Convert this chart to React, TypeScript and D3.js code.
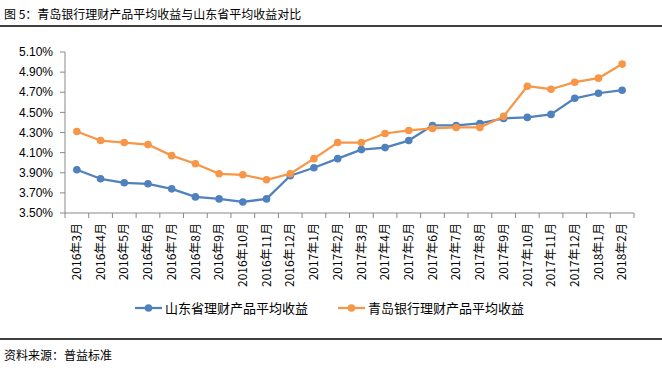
import React from "react";
import * as d3 from "d3";

const categories = [
  "2016年3月", "2016年4月", "2016年5月", "2016年6月", "2016年7月", "2016年8月",
  "2016年9月", "2016年10月", "2016年11月", "2016年12月", "2017年1月", "2017年2月",
  "2017年3月", "2017年4月", "2017年5月", "2017年6月", "2017年7月", "2017年8月",
  "2017年9月", "2017年10月", "2017年11月", "2017年12月", "2018年1月", "2018年2月",
];
const shandong = [
  3.93, 3.84, 3.80, 3.79, 3.74, 3.66, 3.64, 3.61, 3.64, 3.87, 3.95, 4.04,
  4.13, 4.15, 4.22, 4.37, 4.37, 4.39, 4.44, 4.45, 4.48, 4.64, 4.69, 4.72,
];
const qingdao = [
  4.31, 4.22, 4.20, 4.18, 4.07, 3.99, 3.89, 3.88, 3.83, 3.89, 4.04, 4.20,
  4.20, 4.29, 4.32, 4.34, 4.35, 4.35, 4.46, 4.76, 4.73, 4.80, 4.84, 4.98,
];
const yTicks = [3.5, 3.7, 3.9, 4.1, 4.3, 4.5, 4.7, 4.9, 5.1];
const seriesNames = ["山东省理财产品平均收益", "青岛银行理财产品平均收益"];
const titleText = "图 5：青岛银行理财产品平均收益与山东省平均收益对比";
const sourceText = "资料来源：普益标准";

const W = 662;
const H = 375;
const left = 65;
const right = 634;
const top = 52;
const bottom = 213;
const BLUE = "#4F81BD";
const ORANGE = "#F79646";
const AXIS = "#898989";
const FONT = "'Noto Sans CJK SC', 'Liberation Sans', Arial, sans-serif";

export default function App() {
  const x = d3.scaleBand<string>().domain(categories).range([left, right]);
  const y = d3.scaleLinear().domain([3.5, 5.1]).range([bottom, top]);
  const cx = (c: string) => (x(c) as number) + x.bandwidth() / 2;
  const line = d3
    .line<number>()
    .x((_, i) => cx(categories[i]))
    .y((d) => y(d));
  const series = [
    { name: seriesNames[0], values: shandong, color: BLUE },
    { name: seriesNames[1], values: qingdao, color: ORANGE },
  ];
  const boundaries = categories.map((c) => x(c) as number).concat([right]);

  return (
    <svg
      width={W}
      height={H}
      style={{ position: "absolute", left: 0, top: 0, background: "#fff" }}
      fontFamily={FONT}
    >
      <text x={4} y={19} fontSize={12} fill="#000">{titleText}</text>
      <line x1={0} x2={W} y1={26} y2={26} stroke="#000" strokeWidth={1.5} />

      {/* y axis */}
      <line x1={left} x2={left} y1={top} y2={bottom} stroke={AXIS} strokeWidth={1} />
      {yTicks.map((t) => (
        <g key={t}>
          <line x1={left - 5} x2={left} y1={y(t)} y2={y(t)} stroke={AXIS} />
          <text
            x={53}
            y={y(t)}
            dy="0.35em"
            textAnchor="end"
            fontSize={12}
            fontFamily="'Liberation Sans', Arial, sans-serif"
            fill="#000"
          >
            {t.toFixed(2)}%
          </text>
        </g>
      ))}

      {/* x axis */}
      <line x1={left} x2={right} y1={bottom} y2={bottom} stroke={AXIS} strokeWidth={1} />
      {boundaries.map((b, i) => (
        <line key={i} x1={b} x2={b} y1={bottom} y2={bottom + 5} stroke={AXIS} />
      ))}
      {categories.map((c) => (
        <text
          key={c}
          transform={`translate(${cx(c)},223) rotate(-90)`}
          textAnchor="end"
          dy="0.35em"
          fontSize={12}
          fill="#000"
        >
          {c}
        </text>
      ))}

      {series.map((s) => (
        <g key={s.name}>
          <path d={line(s.values) || ""} fill="none" stroke={s.color} strokeWidth={2.25} strokeLinejoin="round" />
          {s.values.map((v, i) => (
            <circle key={i} cx={cx(categories[i])} cy={y(v)} r={3.8} fill={s.color} />
          ))}
        </g>
      ))}

      {/* legend */}
      {series.map((s, i) => {
        const lx = i === 0 ? 135 : 338;
        return (
          <g key={s.name}>
            <line x1={lx} x2={lx + 27} y1={308} y2={308} stroke={s.color} strokeWidth={2.25} />
            <circle cx={lx + 13.5} cy={308} r={3.8} fill={s.color} />
            <text x={lx + 30} y={308} dy="0.35em" fontSize={13} fill="#000">{s.name}</text>
          </g>
        );
      })}

      <line x1={0} x2={W} y1={339} y2={339} stroke="#000" strokeWidth={1.5} />
      <text x={4} y={360} fontSize={12} fill="#000">{sourceText}</text>
    </svg>
  );
}
